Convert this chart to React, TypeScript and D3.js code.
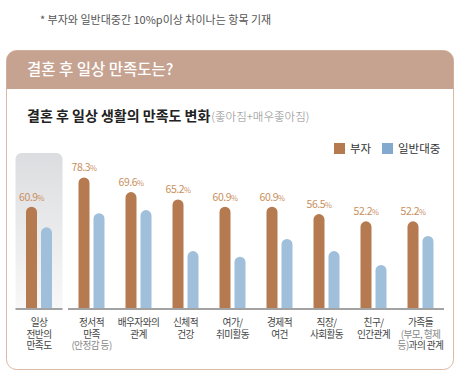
import React from "react";
import * as d3 from "d3";

const categories: string[][] = [
  ["일상", "전반의", "만족도"],
  ["정서적", "만족", "(안정감 등)"],
  ["배우자와의", "관계"],
  ["신체적", "건강"],
  ["여가/", "취미활동"],
  ["경제적", "여건"],
  ["직장/", "사회활동"],
  ["친구/", "인간관계"],
  ["가족들", "(부모, 형제", "등)과의 관계"],
];
const richValues = [60.9, 78.3, 69.6, 65.2, 60.9, 60.9, 56.5, 52.2, 52.2];
const publicValues = [48.6, 57.0, 58.9, 34.5, 31.1, 41.7, 34.5, 26.2, 43.5];
const seriesNames = ["부자", "일반대중"];

const W = 461;
const H = 380;
const FONT = "'Noto Sans CJK KR', 'Noto Sans', sans-serif";
const BROWN = "#b57a50";
const BLUE = "#a0bfdb";
const LEGEND_BLUE = "#84a9cf";
const LABEL = "#c98f5d";

export default function App() {
  const baseY = 309;
  const y = d3.scaleLinear().domain([0, 100]).range([baseY, baseY - 168]);
  const keys = categories.map((_, i) => String(i));
  const xFirst = d3.scaleBand().domain([keys[0]]).range([15.5, 62.5]);
  const xMain = d3.scaleBand().domain(keys.slice(1)).range([68, 444]);
  const xSub = d3.scaleBand().domain(seriesNames).range([0, 26]).paddingInner(4 / 15);
  const bw = xSub.bandwidth();
  const center = (i: number) => {
    const s = i === 0 ? xFirst : xMain;
    return (s(keys[i]) as number) + s.bandwidth() / 2;
  };
  const barPath = (x: number, v: number) => {
    const top = y(v);
    const r = bw / 2;
    return `M${x},${baseY}V${top + r}A${r},${r} 0 0 1 ${x + bw},${top + r}V${baseY}Z`;
  };

  return (
    <svg width={W} height={H} style={{ position: "absolute", left: 0, top: 0, fontFamily: FONT }}>
      <defs>
        <linearGradient id="hl" x1="0" y1="0" x2="0" y2="1">
          <stop offset="0" stopColor="#dcdde0" />
          <stop offset="1" stopColor="#f8f8f8" />
        </linearGradient>
      </defs>
      <rect width={W} height={H} fill="#fff" />
      <text x={40} y={24} fontSize={11} fill="#555">
        * 부자와 일반대중간 10%p이상 차이나는 항목 기재
      </text>
      {/* box */}
      <rect x={6.5} y={50.5} width={447} height={319} rx={10} fill="#fff" stroke="#dcb8a6" strokeWidth={1} />
      <path d="M6.5,89V60.5A10,10 0 0 1 16.5,50.5H443.5A10,10 0 0 1 453.5,60.5V89Z" fill="#c6a291" />
      <text x={27} y={75} fontSize={15.5} fontWeight={500} fill="#fff">
        결혼 후 일상 만족도는?
      </text>
      <text x={27} y={121} fontSize={14} fontWeight={700} fill="#222">
        결혼 후 일상 생활의 만족도 변화
        <tspan dx={1} fontSize={11.5} fontWeight={300} fill="#888">(좋아짐+매우좋아짐)</tspan>
      </text>
      {/* legend */}
      <rect x={334} y={143} width={11} height={11} fill={BROWN} />
      <text x={350} y={153} fontSize={11.5} fill="#333">{seriesNames[0]}</text>
      <rect x={382} y={143} width={11} height={11} fill={LEGEND_BLUE} />
      <text x={398} y={153} fontSize={11.5} fill="#333">{seriesNames[1]}</text>
      {/* highlight */}
      <path
        d={`M15.5,${baseY}V159A6,6 0 0 1 21.5,153H56.5A6,6 0 0 1 62.5,159V${baseY}Z`}
        fill="url(#hl)"
      />
      {categories.map((cat, i) => {
        const c = center(i);
        const x0 = c - 13;
        const xr = x0 + (xSub(seriesNames[0]) as number);
        const xb = x0 + (xSub(seriesNames[1]) as number);
        return (
          <g key={i}>
            <path d={barPath(xr, richValues[i])} fill={BROWN} />
            <path d={barPath(xb, publicValues[i])} fill={BLUE} />
            <text
              x={xr + bw / 2}
              y={y(richValues[i]) - 6}
              textAnchor="middle"
              fontSize={10.5}
              letterSpacing={-0.5}
              fill={LABEL}
            >
              {richValues[i].toFixed(1)}
              <tspan fontSize={7.5}>%</tspan>
            </text>
            <text textAnchor="middle" fontSize={9.7} letterSpacing={-0.6} fill="#444">
              {cat.map((line, j) => {
                const sub = line.startsWith("(");
                if (i === 8 && j === 2) {
                  return (
                    <tspan key={j} x={c} y={326 + j * 11.7}>
                      <tspan fill="#888">등)</tspan>
                      <tspan fill="#444">과의 관계</tspan>
                    </tspan>
                  );
                }
                return (
                  <tspan key={j} x={c} y={326 + j * 11.7} fill={sub ? "#888" : "#444"}>
                    {line}
                  </tspan>
                );
              })}
            </text>
          </g>
        );
      })}
      <line x1={15.5} x2={62.5} y1={baseY} y2={baseY} stroke="#a3a3a3" strokeWidth={2} />
      <line x1={68} x2={444} y1={baseY} y2={baseY} stroke="#a3a3a3" strokeWidth={2} />
    </svg>
  );
}
